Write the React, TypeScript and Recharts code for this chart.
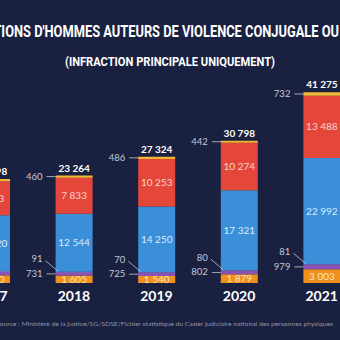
import { Bar, BarChart, LabelList, XAxis, YAxis } from 'recharts';

const years = ['2017', '2018', '2019', '2020', '2021'];
const orangeValues = [1700, 1605, 1540, 1879, 3003];
const purpleValues = [760, 731, 725, 802, 979];
const lilacValues = [95, 91, 70, 80, 81];
const blueValues = [12120, 12544, 14250, 17321, 22992];
const redValues = [7373, 7833, 10253, 10274, 13488];
const yellowValues = [450, 460, 486, 442, 732];
const totals = [22498, 23264, 27324, 30798, 41275];

const data = years.map((year, i) => ({
  year,
  orange: orangeValues[i],
  purple: purpleValues[i],
  lilac: lilacValues[i],
  blue: blueValues[i],
  red: redValues[i],
  yellow: yellowValues[i],
  total: totals[i],
}));

const BG = '#1a2140';
const SIDE = '#c3c7d3';
const FONT = 'Lato, "Open Sans", sans-serif';

function fmt(n: number) {
  return String(n).replace(/\B(?=(\d{3})+(?!\d))/g, ' ');
}

function YearTick({ x, y, payload }: any) {
  return (
    <text x={x} y={y + 10} textAnchor="middle" fill="#ffffff" fontFamily={FONT} fontWeight={700} fontSize={14}>
      {payload.value}
    </text>
  );
}

// inside label, no wrapping
function makeCenterLabel(color: string) {
  return function CenterLabel(props: any) {
    const { x, y, width, height, value } = props;
    return (
      <text
        x={x + width / 2}
        y={y + height / 2 + 3.5}
        textAnchor="middle"
        fill={color}
        fontFamily={FONT}
        fontSize={10}
      >
        {fmt(value)}
      </text>
    );
  };
}

const OrangeLabel = makeCenterLabel('#fde2bd');
const BlueLabel = makeCenterLabel('#dcebfa');
const RedLabel = makeCenterLabel('#fad3cf');

function TopLabels(props: any) {
  const { x, y, width, height, index } = props;
  const mid = y + height / 2;
  return (
    <g fontFamily={FONT}>
      <text x={x + width / 2} y={y - 4} textAnchor="middle" fill="#ffffff" fontWeight={700} fontSize={10}>
        {fmt(totals[index])}
      </text>
      <line x1={x - 9} y1={mid} x2={x} y2={mid} stroke={SIDE} strokeWidth={0.8} />
      <text x={x - 13} y={mid + 3} textAnchor="end" fill={SIDE} fontSize={9.5}>
        {fmt(yellowValues[index])}
      </text>
    </g>
  );
}

function PurpleLabel(props: any) {
  const { x, y, height, index } = props;
  const mid = y + height / 2;
  return (
    <g fontFamily={FONT}>
      <line x1={x - 9} y1={mid} x2={x} y2={mid} stroke={SIDE} strokeWidth={0.8} />
      <text x={x - 13} y={mid + 3} textAnchor="end" fill={SIDE} fontSize={9.5}>
        {fmt(purpleValues[index])}
      </text>
    </g>
  );
}

function LilacLabel(props: any) {
  const { x, y, index } = props;
  return (
    <g fontFamily={FONT}>
      <line x1={x - 10} y1={y - 11} x2={x + 2.5} y2={y - 0.5} stroke={SIDE} strokeWidth={0.8} />
      <text x={x - 13} y={y - 9.5} textAnchor="end" fill={SIDE} fontSize={9.5}>
        {fmt(lilacValues[index])}
      </text>
    </g>
  );
}

export default function App() {
  return (
    <div
      style={{
        position: 'fixed',
        left: 0,
        top: 0,
        width: 340,
        height: 340,
        overflow: 'hidden',
        background: BG,
      }}
    >
      <div style={{ position: 'absolute', left: -50, top: 0 }}>
        <BarChart
          width={413}
          height={323}
          data={data}
          margin={{ top: 52, right: 0, bottom: 0, left: 0 }}
          barSize={37}
        >
          <XAxis dataKey="year" axisLine={false} tickLine={false} height={40} tick={<YearTick />} interval={0} />
          <YAxis hide domain={[0, 50000]} />
          <Bar dataKey="orange" stackId="a" fill="#f0911e" isAnimationActive={false}>
            <LabelList dataKey="orange" content={<OrangeLabel />} />
          </Bar>
          <Bar dataKey="purple" stackId="a" fill="#8b52b6" isAnimationActive={false}>
            <LabelList dataKey="purple" content={<PurpleLabel />} />
          </Bar>
          <Bar dataKey="lilac" stackId="a" fill="#c4a7ef" isAnimationActive={false}>
            <LabelList dataKey="lilac" content={<LilacLabel />} />
          </Bar>
          <Bar dataKey="blue" stackId="a" fill="#3b8fd9" isAnimationActive={false}>
            <LabelList dataKey="blue" content={<BlueLabel />} />
          </Bar>
          <Bar dataKey="red" stackId="a" fill="#e5463a" isAnimationActive={false}>
            <LabelList dataKey="red" content={<RedLabel />} />
          </Bar>
          <Bar dataKey="yellow" stackId="a" fill="#f1b731" isAnimationActive={false}>
            <LabelList dataKey="yellow" content={<TopLabels />} />
          </Bar>
        </BarChart>
      </div>
      <svg width={340} height={340} style={{ position: 'absolute', left: 0, top: 0, pointerEvents: 'none' }}>
        <text
          x={-78}
          y={36.5}
          textLength={417}
          lengthAdjust="spacingAndGlyphs"
          fill="#ffffff"
          fontFamily="Roboto, sans-serif"
          fontWeight={700}
          fontSize={16}
        >
          CONDAMNATIONS D'HOMMES AUTEURS DE VIOLENCE CONJUGALE OU
        </text>
        <text
          x={65}
          y={65.5}
          textLength={210}
          lengthAdjust="spacingAndGlyphs"
          fill="#ffffff"
          fontFamily="Roboto, sans-serif"
          fontWeight={700}
          fontSize={13}
        >
          (INFRACTION PRINCIPALE UNIQUEMENT)
        </text>
        <text
          x={-4}
          y={326}
          textLength={337}
          lengthAdjust="spacingAndGlyphs"
          fill="#8d93ab"
          fontFamily={FONT}
          fontSize={6.5}
        >
          Source : Ministère de la justice/SG/SDSE/Fichier statistique du Casier judiciaire national des personnes physiques
        </text>
      </svg>
    </div>
  );
}
